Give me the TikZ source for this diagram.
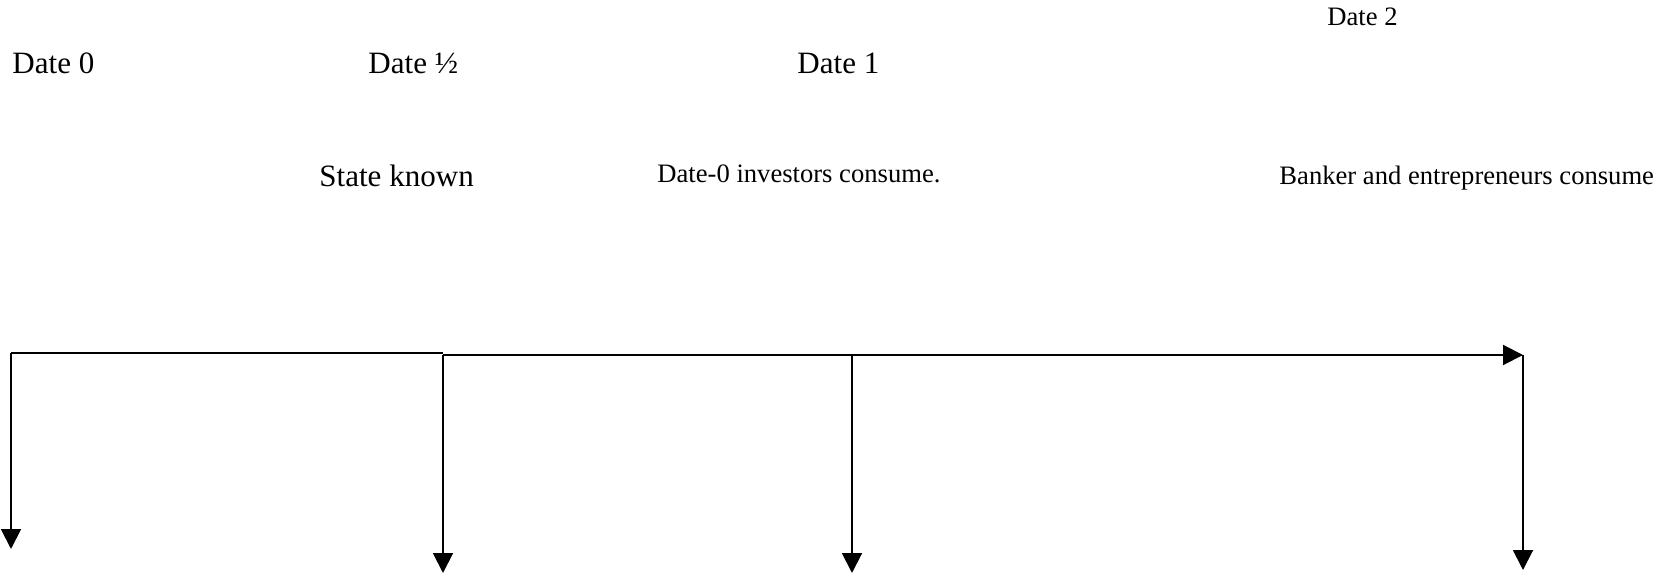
\documentclass[tikz,border=0pt]{standalone}
\usepackage{fontspec}
\setmainfont{Liberation Serif}
\usetikzlibrary{arrows.meta, positioning}

\begin{document}
\begin{tikzpicture}[x=0.451pt, y=0.451pt,
    bigtext/.style={inner sep=0pt, anchor=base west, font=\fontsize{14}{16}\selectfont},
    smalltext/.style={inner sep=0pt, anchor=base west, font=\fontsize{12}{14}\selectfont},
    tick/.style={-{Triangle[length=9pt,width=9pt]}, line width=0.9pt}]
\useasboundingbox (0,0) rectangle (1663,575);

% Dates
\node[bigtext] (date0) at (12,501) {Date 0};
\node[bigtext] (datehalf) at (368,501) {Date ½};
\node[bigtext] (date1) at (797,501) {Date 1};
\node[smalltext] (date2) at (1327,549) {Date 2};

% Events
\node[bigtext] (state) at (319,388) {State known};
\node[smalltext] (investors) at (657,392) {Date-0 investors consume.};
\node[smalltext] (banker) at (1279,390) {Banker and entrepreneurs consume};

% Timeline
\coordinate (t0) at (11,222);
\coordinate (thalfa) at (443,222);
\coordinate (thalf) at (443,220);
\coordinate (t1) at (852,220);
\coordinate (t2) at (1523,220);
\draw[line width=0.9pt] (t0) -- (thalfa);
\draw[tick] (thalf) -- (t2);

% Downward arrows
\coordinate (e0) at (11,26);
\coordinate (ehalf) at (443,2);
\coordinate (e1) at (852,2);
\coordinate (e2) at (1523,5);
\foreach \a/\b in {t0/e0, thalf/ehalf, t1/e1, t2/e2} {
    \draw[tick] (\a) -- (\b);
}
\end{tikzpicture}
\end{document}
